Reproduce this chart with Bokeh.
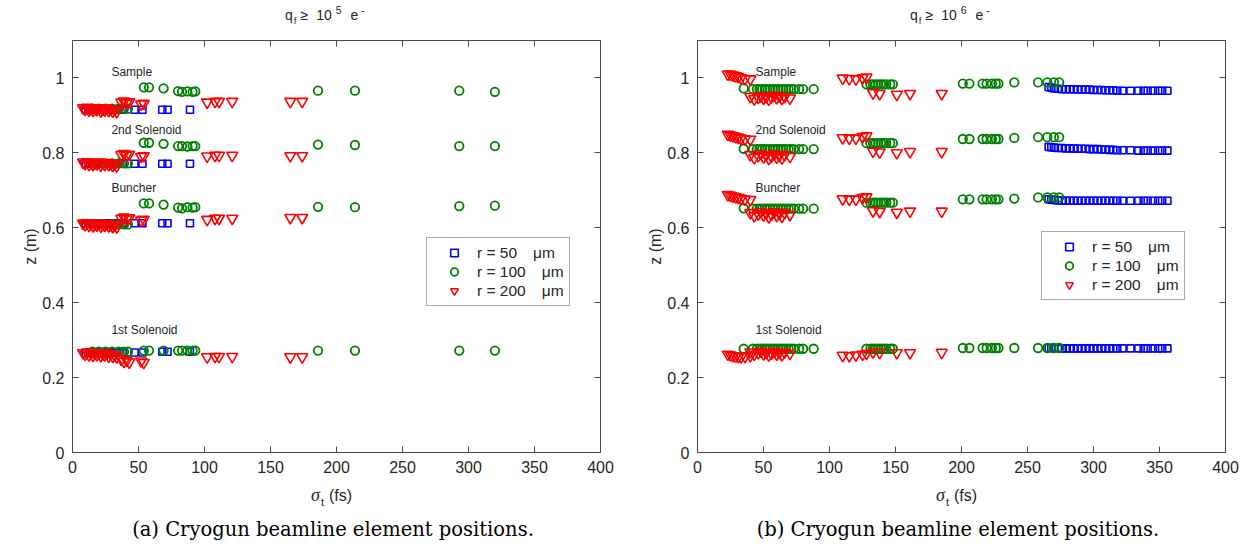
from bokeh.plotting import figure
from bokeh.models import (ColumnDataSource, LinearAxis, FixedTicker,
                          CustomJSTickFormatter, Range1d, Div)
from bokeh.layouts import row, column
from bokeh.embed import file_html
from bokeh.resources import INLINE
from bokeh.core.properties import value

# ---------------- data ----------------
ELEMENTS = ["Sample", "2nd Solenoid", "Buncher", "1st Solenoid"]
ELEMENT_LABEL_Z = [1.016, 0.861, 0.707, 0.328]
ELEMENT_LABEL_SIGMA = [29.5, 44.0]          # panel (a), panel (b)
X_TICKS = [0, 50, 100, 150, 200, 250, 300, 350, 400]
Y_TICKS = [0, 0.2, 0.4, 0.6, 0.8, 1]
GAP = "\u00a0\u00a0\u00a0\u2009"
SERIES_LABELS = ["r = 50" + GAP + "\u03bcm", "r = 100" + GAP + "\u03bcm", "r = 200" + GAP + "\u03bcm"]
TITLE_EXPONENTS = ["5", "6"]
CAPTIONS = ["(a) Cryogun beamline element positions.",
            "(b) Cryogun beamline element positions."]

# ---- panel (a): q_f >= 1e5 ----
a50_sigma = [10, 13, 16, 19, 22, 25, 28, 31, 34, 38, 47, 53, 68, 72, 89]
a50_z_sample = [0.916, 0.915, 0.916, 0.915, 0.916, 0.915, 0.916, 0.915, 0.916, 0.915, 0.915, 0.915, 0.915, 0.915, 0.915]
a50_z_sol2 = [0.772, 0.771, 0.772, 0.771, 0.772, 0.771, 0.772, 0.771, 0.771, 0.771, 0.771, 0.771, 0.771, 0.771, 0.771]
a50_z_buncher = [0.612, 0.611, 0.612, 0.611, 0.612, 0.611, 0.612, 0.611, 0.612, 0.612, 0.612, 0.612, 0.612, 0.612, 0.612]
a50_z_sol1 = [0.266, 0.267, 0.266, 0.267, 0.266, 0.267, 0.266, 0.267, 0.267, 0.267, 0.267, 0.267, 0.269, 0.269, 0.269]

a100_sigma = [15, 20, 25, 30, 35, 39, 42, 54, 58, 69, 80, 83, 87, 91, 93, 186, 214, 293, 320]
a100_z_sample = [0.918, 0.918, 0.918, 0.918, 0.918, 0.918, 0.918, 0.975, 0.975, 0.972, 0.965, 0.963, 0.964, 0.963, 0.964, 0.966, 0.966, 0.966, 0.963]
a100_z_sol2 = [0.772, 0.772, 0.772, 0.772, 0.772, 0.772, 0.772, 0.827, 0.827, 0.824, 0.818, 0.818, 0.817, 0.818, 0.818, 0.822, 0.821, 0.818, 0.818]
a100_z_buncher = [0.609, 0.609, 0.609, 0.609, 0.609, 0.609, 0.609, 0.665, 0.665, 0.662, 0.654, 0.652, 0.655, 0.654, 0.655, 0.656, 0.655, 0.658, 0.659]
a100_z_sol1 = [0.269, 0.269, 0.269, 0.269, 0.269, 0.269, 0.269, 0.272, 0.272, 0.272, 0.272, 0.272, 0.272, 0.272, 0.272, 0.272, 0.272, 0.272, 0.272]

a200_sigma = [8, 9.5, 11, 12.5, 14, 15.5, 17, 18.5, 20, 21.5, 23, 24.5, 26, 27.5, 29, 30.5, 32, 33.5,
              37, 39, 41, 43, 52, 54, 102, 108, 111, 121, 165, 174]
a200_z_sample = [0.920, 0.916, 0.921, 0.914, 0.919, 0.913, 0.918, 0.915, 0.920, 0.912, 0.917, 0.914, 0.919, 0.913, 0.916, 0.911, 0.915, 0.910,
                 0.935, 0.938, 0.933, 0.936, 0.930, 0.932, 0.935, 0.937, 0.937, 0.937, 0.937, 0.937]
a200_z_sol2 = [0.775, 0.771, 0.776, 0.769, 0.774, 0.768, 0.773, 0.770, 0.775, 0.767, 0.772, 0.769, 0.774, 0.768, 0.771, 0.766, 0.770, 0.765,
               0.795, 0.798, 0.793, 0.796, 0.790, 0.792, 0.791, 0.793, 0.793, 0.793, 0.792, 0.792]
a200_z_buncher = [0.612, 0.608, 0.613, 0.606, 0.611, 0.605, 0.610, 0.607, 0.612, 0.604, 0.609, 0.606, 0.611, 0.605, 0.608, 0.603, 0.607, 0.602,
                  0.625, 0.628, 0.623, 0.626, 0.620, 0.622, 0.622, 0.625, 0.625, 0.625, 0.627, 0.627]
a200_z_sol1 = [0.266, 0.262, 0.267, 0.260, 0.265, 0.259, 0.264, 0.261, 0.266, 0.258, 0.263, 0.260, 0.265, 0.257, 0.262, 0.256, 0.260, 0.255,
               0.248, 0.243, 0.246, 0.241, 0.244, 0.240, 0.255, 0.256, 0.256, 0.256, 0.255, 0.255]

# ---- panel (b): q_f >= 1e6 ----
b50_sigma = [266, 268, 270, 273, 276, 279, 282, 285, 288, 291, 294, 297, 300, 303, 306, 309, 312, 315,
             318, 322, 328, 334, 338, 341, 345, 349, 352, 356]
b50_z_sample = [0.976, 0.974, 0.972, 0.971, 0.970, 0.970, 0.970, 0.970, 0.969, 0.969, 0.969, 0.969, 0.968, 0.968, 0.968, 0.967, 0.967, 0.967,
                0.966, 0.966, 0.966, 0.966, 0.966, 0.966, 0.966, 0.966, 0.966, 0.966]
b50_z_sol2 = [0.816, 0.815, 0.814, 0.813, 0.813, 0.812, 0.812, 0.812, 0.811, 0.811, 0.811, 0.810, 0.810, 0.810, 0.809, 0.809, 0.808, 0.808,
              0.807, 0.807, 0.807, 0.806, 0.806, 0.806, 0.806, 0.806, 0.806, 0.806]
b50_z_buncher = [0.676, 0.675, 0.674, 0.673, 0.673, 0.672, 0.672, 0.672, 0.672, 0.672, 0.672, 0.672, 0.672, 0.672, 0.672, 0.672, 0.672, 0.672,
                 0.672, 0.672, 0.672, 0.672, 0.672, 0.672, 0.672, 0.672, 0.672, 0.672]
b50_z_sol1 = [0.279, 0.279, 0.279, 0.279, 0.278, 0.278, 0.278, 0.278, 0.278, 0.278, 0.278, 0.278, 0.278, 0.278, 0.278, 0.278, 0.278, 0.278,
              0.278, 0.278, 0.278, 0.278, 0.278, 0.278, 0.278, 0.278, 0.278, 0.278]

b100_sigma = [35, 42, 45, 47, 49, 51, 53, 55, 57, 59, 61, 63, 65, 67, 69, 71, 73, 77, 80, 88,
              128, 131, 133, 135, 137, 139, 141, 143, 146, 148,
              201, 206, 216, 219, 223, 226, 228, 240, 258, 265, 270, 274]
b100_z_sample = [0.972, 0.970, 0.970, 0.970, 0.970, 0.970, 0.970, 0.970, 0.970, 0.970, 0.970, 0.970, 0.970, 0.970, 0.970, 0.970, 0.970, 0.970, 0.970, 0.970,
                 0.983, 0.983, 0.983, 0.983, 0.983, 0.983, 0.983, 0.983, 0.983, 0.983,
                 0.985, 0.985, 0.985, 0.985, 0.985, 0.985, 0.985, 0.988, 0.988, 0.988, 0.988, 0.988]
b100_z_sol2 = [0.811, 0.810, 0.810, 0.810, 0.810, 0.810, 0.810, 0.810, 0.810, 0.810, 0.810, 0.810, 0.810, 0.810, 0.810, 0.810, 0.810, 0.810, 0.810, 0.810,
               0.826, 0.826, 0.826, 0.826, 0.826, 0.826, 0.826, 0.826, 0.826, 0.826,
               0.837, 0.837, 0.837, 0.837, 0.837, 0.837, 0.837, 0.840, 0.842, 0.842, 0.842, 0.842]
b100_z_buncher = [0.652, 0.651, 0.651, 0.651, 0.651, 0.651, 0.651, 0.651, 0.651, 0.651, 0.651, 0.651, 0.651, 0.651, 0.651, 0.651, 0.651, 0.651, 0.651, 0.651,
                  0.667, 0.667, 0.667, 0.667, 0.667, 0.667, 0.667, 0.667, 0.667, 0.667,
                  0.676, 0.676, 0.676, 0.676, 0.676, 0.676, 0.676, 0.678, 0.681, 0.681, 0.681, 0.681]
b100_z_sol1 = [0.277, 0.277, 0.277, 0.277, 0.277, 0.277, 0.277, 0.277, 0.277, 0.277, 0.277, 0.277, 0.277, 0.277, 0.277, 0.277, 0.277, 0.277, 0.277, 0.277,
               0.277, 0.277, 0.277, 0.277, 0.277, 0.277, 0.277, 0.277, 0.277, 0.277,
               0.279, 0.279, 0.279, 0.279, 0.279, 0.279, 0.279, 0.279, 0.279, 0.279, 0.279, 0.279]

b200_sigma = [23, 25, 27, 29, 31, 33, 36, 40,
              40, 43, 46, 48, 50, 52, 54, 56, 58, 60, 62, 64, 66, 70,
              110, 115, 120, 125, 128,
              133, 138, 151, 161, 185]
b200_z_sample = [1.010, 1.009, 1.007, 1.005, 1.003, 1.000, 0.998, 0.997,
                 0.950, 0.944, 0.948, 0.952, 0.946, 0.950, 0.943, 0.949, 0.953, 0.947, 0.951, 0.945, 0.950, 0.946,
                 0.999, 0.998, 0.997, 1.000, 1.002,
                 0.960, 0.958, 0.956, 0.958, 0.958]
b200_z_sol2 = [0.849, 0.847, 0.845, 0.843, 0.841, 0.839, 0.837, 0.836,
               0.795, 0.787, 0.792, 0.798, 0.789, 0.794, 0.785, 0.791, 0.797, 0.788, 0.793, 0.786, 0.795, 0.790,
               0.840, 0.839, 0.839, 0.843, 0.845,
               0.804, 0.802, 0.800, 0.803, 0.803]
b200_z_buncher = [0.688, 0.686, 0.684, 0.682, 0.680, 0.678, 0.676, 0.675,
                  0.640, 0.632, 0.637, 0.643, 0.634, 0.639, 0.629, 0.636, 0.642, 0.633, 0.638, 0.630, 0.640, 0.635,
                  0.677, 0.676, 0.676, 0.680, 0.682,
                  0.645, 0.643, 0.641, 0.644, 0.644]
b200_z_sol1 = [0.262, 0.260, 0.258, 0.257, 0.256, 0.255, 0.256, 0.258,
               0.268, 0.262, 0.266, 0.270, 0.263, 0.267, 0.260, 0.265, 0.269, 0.262, 0.266, 0.261, 0.268, 0.264,
               0.259, 0.258, 0.260, 0.262, 0.264,
               0.268, 0.267, 0.266, 0.266, 0.267]

# ---------------- styling ----------------
FONT = "Liberation Sans"
TXT = "#262626"
AXC = "#4a4a4a"
STYLES = [dict(marker="square", size=7, line_color="#0000ff", line_width=1.6),
          dict(marker="circle", size=8.5, line_color="#008000", line_width=1.8),
          dict(marker="inverted_triangle", size=11, line_color="#ff0000", line_width=1.6)]


def stacked(sigma, *zs):
    xs, ys = [], []
    for z in zs:
        xs += list(sigma)
        ys += list(z)
    return ColumnDataSource(dict(x=xs, y=ys))


def style_axis(ax, ticks, show_labels):
    ax.ticker = FixedTicker(ticks=ticks)
    ax.major_tick_in = 6
    ax.major_tick_out = 0
    ax.minor_tick_line_color = None
    ax.axis_line_color = AXC
    ax.major_tick_line_color = AXC
    ax.major_label_text_font = FONT
    ax.major_label_text_color = TXT
    if show_labels:
        ax.formatter = CustomJSTickFormatter(code="return String(tick);")
        ax.major_label_text_font_size = "16px"
        ax.major_label_standoff = 8
    else:
        ax.formatter = CustomJSTickFormatter(code="return '';")
        ax.major_label_text_font_size = "1px"
        ax.major_label_standoff = 0


def make_panel(idx, series, width, left, right, legend_loc):
    p = figure(width=width, height=452, x_range=Range1d(0, 400), y_range=Range1d(0, 1.1),
               output_backend="svg", toolbar_location=None,
               min_border_left=left, min_border_right=right,
               min_border_top=10, min_border_bottom=30)
    p.outline_line_color = None
    p.xgrid.visible = False
    p.ygrid.visible = False
    p.background_fill_color = "white"
    p.border_fill_color = "white"

    for ax in p.xaxis:
        style_axis(ax, X_TICKS, True)
    for ax in p.yaxis:
        style_axis(ax, Y_TICKS, True)
        ax.axis_label = "z (m)"
        ax.axis_label_text_font = FONT
        ax.axis_label_text_font_size = "16px"
        ax.axis_label_text_font_style = "normal"
        ax.axis_label_text_color = TXT
        ax.axis_label_standoff = 0
    ax_r = LinearAxis()
    style_axis(ax_r, Y_TICKS, False)
    p.add_layout(ax_r, "right")
    ax_t = LinearAxis()
    style_axis(ax_t, X_TICKS, False)
    p.add_layout(ax_t, "above")

    for (sigma, zs), st, lab in zip(series, STYLES, SERIES_LABELS):
        src = stacked(sigma, *zs)
        p.scatter("x", "y", source=src, fill_color=None, legend_label=lab, **st)

    lsrc = ColumnDataSource(dict(x=[ELEMENT_LABEL_SIGMA[idx]] * len(ELEMENTS),
                                 y=ELEMENT_LABEL_Z, t=ELEMENTS))
    p.text("x", "y", text="t", source=lsrc, text_font=value(FONT), text_font_size="12px",
           text_baseline="middle", text_align="left", text_color=TXT)

    lg = p.legend[0]
    lg.location = legend_loc
    lg.border_line_color = "#555555"
    lg.border_line_width = 1
    lg.background_fill_alpha = 1
    lg.padding = 5
    lg.spacing = 0
    lg.margin = 0
    lg.glyph_width = 44
    lg.glyph_height = 19
    lg.label_height = 19
    lg.label_standoff = 1
    lg.label_text_font = FONT
    lg.label_text_font_size = "15.5px"
    lg.label_text_color = TXT
    return p


def title_div(idx, width, q_left):
    sup = "font-size:10.5px;position:relative;top:-6px;"
    html = (
        f'<div style="position:relative;width:{width}px;height:30px;'
        f'font-family:\'{FONT}\';font-size:14px;color:{TXT};white-space:nowrap;">'
        f'<div style="position:absolute;left:{q_left}px;top:7px;line-height:16px;">'
        f'<span>q</span>'
        f'<span style="font-size:9.5px;position:relative;top:4px;margin-left:1px;">f</span>'
        f'<span style="margin-left:4px;">\u2265</span>'
        f'<span style="margin-left:8px;">10</span>'
        f'<span style="{sup}margin-left:4px;">{TITLE_EXPONENTS[idx]}</span>'
        f'<span style="margin-left:9px;">e</span>'
        f'<span style="{sup}margin-left:3px;">-</span>'
        f'</div></div>')
    return Div(text=html, width=width, height=30, margin=0)


def bottom_div(idx, width, sigma_left, caption_center):
    html = (
        f'<div style="position:relative;width:{width}px;height:66px;white-space:nowrap;color:{TXT};">'
        f'<div style="position:absolute;left:{sigma_left}px;top:4px;line-height:18px;'
        f'font-family:\'{FONT}\';font-size:16px;">'
        f'<span style="font-family:\'Liberation Serif\';font-style:italic;font-size:18px;">\u03c3</span>'
        f'<span style="font-size:11px;position:relative;top:5px;margin-left:1px;">t</span>'
        f'<span style="margin-left:5px;">(fs)</span></div>'
        f'<div style="position:absolute;left:0px;width:{2 * caption_center}px;top:37px;'
        f'text-align:center;line-height:22px;font-family:\'DejaVu Serif\';font-size:19.5px;color:#000;">'
        f'{CAPTIONS[idx]}</div>'
        f'</div>')
    return Div(text=html, width=width, height=66, margin=0)


series_a = [(a50_sigma, [a50_z_sample, a50_z_sol2, a50_z_buncher, a50_z_sol1]),
            (a100_sigma, [a100_z_sample, a100_z_sol2, a100_z_buncher, a100_z_sol1]),
            (a200_sigma, [a200_z_sample, a200_z_sol2, a200_z_buncher, a200_z_sol1])]
series_b = [(b50_sigma, [b50_z_sample, b50_z_sol2, b50_z_buncher, b50_z_sol1]),
            (b100_sigma, [b100_z_sample, b100_z_sol2, b100_z_buncher, b100_z_sol1]),
            (b200_sigma, [b200_z_sample, b200_z_sol2, b200_z_buncher, b200_z_sol1])]

pa = make_panel(0, series_a, 627, 72, 27, (354, 146))
pb = make_panel(1, series_b, 628, 70, 30, (344, 152))

col_a = column(title_div(0, 627, 285), pa, bottom_div(0, 627, 311, 333), spacing=0)
col_b = column(title_div(1, 628, 283), pb, bottom_div(1, 628, 309, 331), spacing=0)

layout = row(col_a, col_b, spacing=0)
open("out.html", "w").write(file_html(layout, INLINE))
